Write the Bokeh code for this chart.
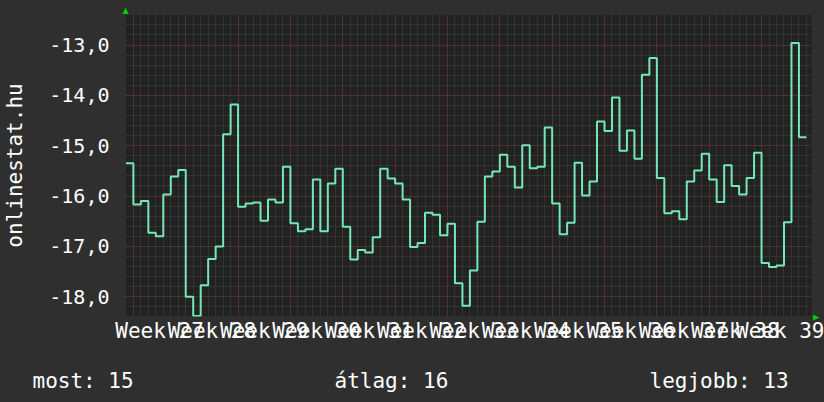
from bokeh.plotting import figure
from bokeh.models import Range1d, FixedTicker, Grid, AllLabels, Title
from bokeh.layouts import column
from bokeh.core.properties import value
from bokeh.embed import file_html
from bokeh.resources import INLINE
import numpy as np

# ---- data ----
days = list(range(-1, 90))          # day index relative to Monday of week 27
rank = [
    -15.35,
    -16.17, -16.10, -16.73, -16.80, -15.97, -15.61, -15.48,
    -18.00, -18.38, -17.77, -17.25, -17.00, -14.77, -14.18,
    -16.21, -16.15, -16.13, -16.49, -16.07, -16.13, -15.42,
    -16.54, -16.70, -16.66, -15.67, -16.70, -15.75, -15.46,
    -16.61, -17.26, -17.07, -17.12, -16.82, -15.46, -15.65,
    -15.75, -16.07, -17.01, -16.93, -16.33, -16.37, -16.78,
    -16.55, -17.73, -18.18, -17.48, -16.51, -15.61, -15.51,
    -15.18, -15.42, -15.83, -14.99, -15.45, -15.42, -14.64,
    -16.15, -16.76, -16.53, -15.34, -15.99, -15.71, -14.52,
    -14.71, -14.04, -15.10, -14.70, -15.26, -13.59, -13.26,
    -15.64, -16.34, -16.30, -16.46, -15.71, -15.49, -15.16,
    -15.67, -16.12, -15.39, -15.80, -15.97, -15.64, -15.14,
    -17.33, -17.41, -17.38, -16.52, -12.96, -14.83,
]
week_labels = ["Week 27", "Week 28", "Week 29", "Week 30", "Week 31", "Week 32",
               "Week 33", "Week 34", "Week 35", "Week 36", "Week 37", "Week 38", "Week 39"]
y_ticks = [-18, -17, -16, -15, -14, -13]
y_tick_labels = ["-18,0", "-17,0", "-16,0", "-15,0", "-14,0", "-13,0"]
footer_labels = ["most: 15", "átlag: 16", "legjobb: 13"]
y_axis_title = "onlinestat.hu"

# ---- style ----
BACK = "#2f2f2f"
CANVAS = "#222222"
MINOR = "#444444"
MAJOR = "#703030"
LINE = "#74e8b6"
ARROW = "#00d000"
FONT = "DejaVu Sans Mono"
TXT = "#ffffff"

W = 824
H_MAIN, H_FOOT = 352, 50
x0, x1 = -1.055, 90.68
y0, y1 = -18.392, -12.394

p = figure(width=W, height=H_MAIN, output_backend="svg", toolbar_location=None,
           x_range=Range1d(x0, x1), y_range=Range1d(y0, y1),
           min_border_left=124, min_border_right=13, min_border_top=14,
           min_border_bottom=36)
p.background_fill_color = CANVAS
p.border_fill_color = BACK
p.outline_line_color = None
p.xgrid.visible = False
p.ygrid.visible = False

# y-axis arrow (top) as a tiny title glyph
p.title.text = "▲"
p.title.align = "left"
p.title.offset = -3
p.title.standoff = 0
p.title.text_font = "DejaVu Sans"
p.title.text_font_size = "8px"
p.title.text_color = ARROW
p.title.text_font_style = "normal"

# grids
day_ticks = list(range(int(np.floor(x0)), int(np.ceil(x1)) + 1))
week_ticks = [d for d in day_ticks if d % 7 == 0]
minor_y = [round(v, 1) for v in np.arange(-18.4, -12.3, 0.2)]
p.add_layout(Grid(dimension=0, ticker=FixedTicker(ticks=day_ticks),
                  grid_line_color=MINOR, grid_line_dash="1 1", grid_line_width=1))
p.add_layout(Grid(dimension=1, ticker=FixedTicker(ticks=minor_y),
                  grid_line_color=MINOR, grid_line_dash="1 1", grid_line_width=1))
p.add_layout(Grid(dimension=0, ticker=FixedTicker(ticks=week_ticks),
                  grid_line_color=MAJOR, grid_line_dash="1 1", grid_line_width=1))
p.add_layout(Grid(dimension=1, ticker=FixedTicker(ticks=y_ticks),
                  grid_line_color=MAJOR, grid_line_dash="1 1", grid_line_width=1))

# step line
xs = days + [days[-1] + 1]
ys = rank + [rank[-1]]
p.step(xs, ys, mode="after", line_color=LINE, line_width=2)

# x axis
mid = [3.5 + 7 * i for i in range(len(week_labels))]
p.xaxis.ticker = FixedTicker(ticks=mid)
p.xaxis.major_label_overrides = {m: lab for m, lab in zip(mid, week_labels)}
p.xaxis.major_label_policy = AllLabels()
p.xaxis.minor_tick_line_color = None
p.xaxis.major_tick_line_color = None
p.xaxis.major_tick_out = 0
p.xaxis.major_tick_in = 0
p.xaxis.minor_tick_out = 0
p.xaxis.axis_line_color = None
p.xaxis.major_label_standoff = 2
p.xaxis.major_label_text_font = FONT
p.xaxis.major_label_text_font_size = "21px"
p.xaxis.major_label_text_color = TXT

# y axis
p.yaxis.ticker = FixedTicker(ticks=y_ticks)
p.yaxis.major_label_overrides = {t: lab for t, lab in zip(y_ticks, y_tick_labels)}
p.yaxis.minor_tick_line_color = None
p.yaxis.major_tick_line_color = None
p.yaxis.major_tick_out = 0
p.yaxis.major_tick_in = 0
p.yaxis.minor_tick_out = 0
p.yaxis.axis_line_color = None
p.yaxis.major_label_standoff = 16
p.yaxis.major_label_text_font = FONT
p.yaxis.major_label_text_font_size = "20px"
p.yaxis.major_label_text_color = TXT
p.yaxis.axis_label = y_axis_title
p.yaxis.axis_label_text_font = FONT
p.yaxis.axis_label_text_font_size = "21px"
p.yaxis.axis_label_text_font_style = "normal"
p.yaxis.axis_label_text_color = TXT
p.yaxis.axis_label_standoff = 19

# x-axis arrow (right end) as a rotated title in the right panel
p.add_layout(Title(text="▲", align="left", offset=300, standoff=0,
                   text_font="DejaVu Sans", text_font_size="8px",
                   text_color=ARROW, text_font_style="normal"), "right")

# ---- footer ----
f = figure(width=W, height=H_FOOT, output_backend="svg", toolbar_location=None,
           x_range=Range1d(0, W), y_range=Range1d(0, H_FOOT),
           min_border=0, min_border_left=0, min_border_right=0,
           min_border_top=0, min_border_bottom=0)
for fig in (p, f):
    try:
        fig.frame_align = False
    except Exception:
        pass
f.axis.visible = False
f.grid.visible = False
f.outline_line_color = None
f.background_fill_color = BACK
f.border_fill_color = BACK
footer_x = [32, 334, 649]
f.text(x=footer_x, y=[22] * len(footer_labels), text=footer_labels,
       text_font=value(FONT), text_font_size=value("21px"), text_color=TXT,
       text_align="left", text_baseline="alphabetic")

layout = column(p, f, spacing=0)
html = file_html(layout, INLINE)
html = html.replace("<head>", "<head><style>html,body{background:%s}</style>" % BACK, 1)
open("out.html", "w").write(html)
